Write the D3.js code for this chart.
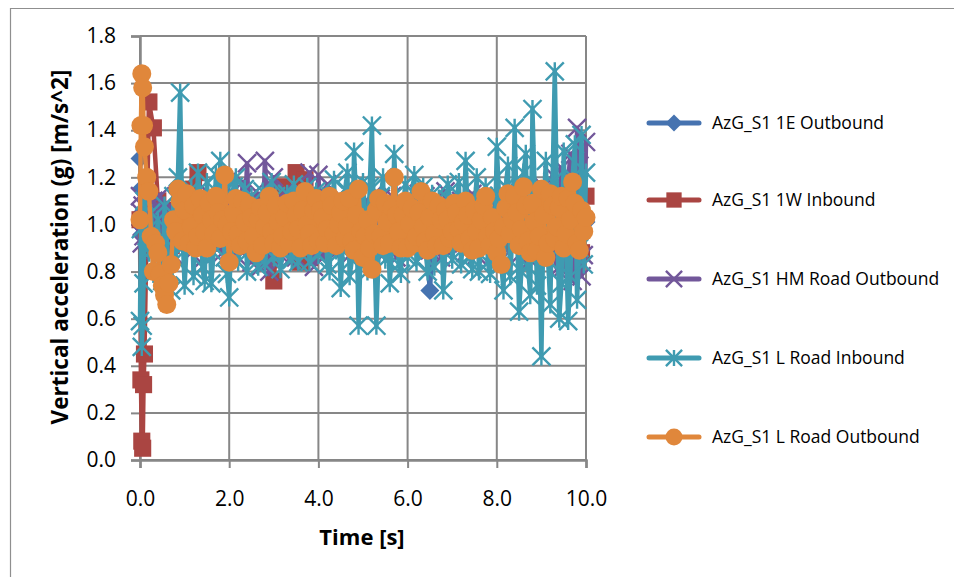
<!DOCTYPE html>
<html>
<head>
<meta charset="utf-8">
<script src="https://cdn.jsdelivr.net/npm/d3@7"></script>
<style>
  html, body { margin: 0; padding: 0; background: #fff; }
  svg { display: block; font-family: "Open Sans", "Liberation Sans", sans-serif; }
</style>
</head>
<body>
<svg id="chart" width="954" height="577"></svg>
<script>
// Sample times: 0.02 s steps during the first 0.1 s, then a coarse (0.1 s)
// or fine (0.05 s) grid up to 10 s
const timeStart = [0, 0.02, 0.04, 0.06, 0.08];
const timeCoarse = timeStart.concat(d3.range(1, 101).map(i => i / 10));
const timeFine = timeStart.concat(d3.range(2, 201).map(i => i / 20));

const seriesNames = [
  "AzG_S1 1E Outbound",
  "AzG_S1 1W Inbound",
  "AzG_S1 HM Road Outbound",
  "AzG_S1 L Road Inbound",
  "AzG_S1 L Road Outbound"
];

// coarse grid
const outbound1E = [
  1.28, 1.15, 1.05, 0.96, 1.02,
  0.98, 1.06, 0.94, 1.03, 0.97, 1.05, 0.92, 1.04, 0.99, 1.07,
  0.95, 1.03, 0.98, 1.06, 0.93, 1.04, 0.97, 1.08, 0.96, 1.02,
  0.94, 1.05, 0.99, 1.07, 0.95, 1.03, 0.97, 1.06, 0.93, 1.04,
  0.98, 1.05, 0.96, 1.02, 0.94, 1.07, 0.99, 1.03, 0.95, 1.06,
  0.97, 1.04, 0.93, 1.08, 0.96, 1.02, 0.98, 1.05, 0.94, 1.03,
  0.99, 1.06, 0.95, 1.03, 0.97, 1.05, 0.93, 1.04, 0.98, 1.02,
  0.96, 1.05, 0.99, 0.94, 0.72, 1.03, 0.97, 1.06, 0.95, 1.02,
  0.98, 1.04, 0.94, 1.07, 0.96, 1.03, 0.99, 1.05, 0.93, 1.02,
  0.97, 1.06, 0.95, 1.03, 0.98, 1.04, 0.94, 1.07, 0.96, 1.02,
  0.99, 1.05, 0.93, 1.04, 0.97, 1.06, 0.95, 1.03, 0.98, 1.01
];

// coarse grid
const inbound1W = [
  1.02, 0.34, 0.08, 0.05, 0.32,
  0.45, 1.52, 1.41, 1.10, 0.95, 1.06, 0.91, 1.04, 0.97, 1.08,
  0.93, 1.15, 1.22, 0.96, 1.09, 0.92, 1.05, 0.98, 1.11, 0.94,
  1.03, 0.96, 1.08, 0.91, 1.05, 0.97, 1.10, 0.93, 0.85, 0.76,
  1.06, 1.16, 0.98, 1.08, 1.22, 0.84, 1.19, 0.86, 1.05, 0.95,
  1.07, 0.93, 1.04, 0.98, 1.09, 0.94, 1.03, 0.97, 1.06, 0.92,
  1.05, 0.96, 1.08, 0.93, 1.02, 0.97, 1.07, 0.94, 1.04, 0.95,
  1.06, 0.92, 1.03, 0.98, 1.08, 0.95, 1.04, 0.91, 1.07, 0.96,
  1.02, 0.94, 1.09, 0.97, 1.05, 0.93, 1.06, 0.98, 1.03, 0.95,
  1.08, 0.92, 1.04, 0.97, 1.07, 0.94, 1.03, 0.96, 1.05, 0.93,
  1.06, 0.95, 1.09, 0.91, 1.04, 0.97, 1.08, 0.93, 0.88, 1.12
];

// fine grid
const hmRoadOutbound = [
  1.12, 1.05, 0.92, 1.08, 0.95,
  1.02, 1.09, 0.90, 0.97, 1.10, 0.89, 0.96, 1.12, 1.05, 0.92, 0.88, 1.03, 1.07, 0.87, 0.93, 1.10, 1.04, 0.95, 0.91,
  1.01, 1.08, 0.88, 0.95, 1.04, 1.12, 0.98, 0.90, 0.86, 1.06, 1.13, 0.97, 0.91, 1.10, 1.05, 0.93, 0.88, 1.02, 1.15, 0.89,
  0.97, 1.07, 1.12, 0.86, 0.93, 1.18, 1.02, 1.26, 0.98, 0.84, 0.90, 1.14, 1.08, 0.82, 0.95, 1.27, 1.10, 0.80, 0.88, 1.20,
  1.04, 0.88, 0.97, 1.09, 1.14, 0.94, 0.85, 1.05, 1.10, 0.86, 0.92, 1.12, 1.03, 0.91, 0.98, 1.22, 1.08, 0.82, 0.90, 1.21,
  1.00, 0.86, 0.94, 1.17, 1.05, 0.93, 0.88, 1.06, 1.12, 0.90, 0.97, 1.10, 1.02, 0.87, 0.92, 1.08, 1.13, 0.95, 0.89, 1.03,
  1.10, 0.92, 0.87, 1.07, 1.13, 0.96, 0.90, 1.11, 1.04, 0.88, 0.95, 1.04, 1.12, 0.93, 0.86, 1.09, 1.01, 0.97, 0.91, 1.02,
  1.09, 0.90, 0.96, 1.06, 1.13, 0.94, 0.87, 1.12, 1.03, 0.89, 0.93, 1.05, 1.11, 0.97, 0.86, 1.08, 1.14, 0.92, 0.88, 1.03,
  1.08, 0.95, 0.91, 1.10, 1.02, 0.88, 0.94, 1.04, 1.13, 0.93, 0.87, 1.07, 1.01, 0.90, 0.96, 1.11, 1.05, 0.96, 0.89, 1.02,
  1.12, 0.91, 0.86, 1.09, 1.15, 0.94, 0.99, 1.06, 1.10, 0.87, 0.93, 1.12, 1.04, 0.95, 0.85, 1.04, 1.14, 0.90, 0.97, 1.08,
  1.16, 0.93, 0.88, 1.13, 1.21, 0.86, 0.81, 1.10, 1.24, 0.82, 0.90, 1.18, 1.30, 0.76, 0.84, 1.41, 1.25, 0.78, 0.87, 1.35
];

// fine grid
const lRoadInbound = [
  0.59, 0.98, 0.48, 0.57, 0.75,
  1.10, 0.95, 0.88, 1.05, 0.79, 0.90, 1.02, 0.84, 0.76, 1.08, 0.93, 0.80, 0.72, 1.12, 0.85, 1.20, 1.56, 0.98, 0.74,
  0.92, 1.05, 1.15, 0.78, 0.96, 1.22, 1.09, 0.82, 0.76, 1.18, 1.02, 0.75, 0.88, 1.21, 0.94, 1.27, 1.13, 0.86, 0.79, 0.69,
  0.98, 1.16, 1.20, 0.84, 0.91, 1.09, 1.15, 0.80, 0.95, 1.12, 1.03, 0.88, 0.82, 1.05, 1.14, 0.83, 0.93, 1.10, 1.18, 0.86,
  1.12, 1.07, 0.81, 0.88, 1.02, 1.13, 0.95, 0.85, 1.17, 1.04, 0.84, 0.90, 0.97, 1.10, 1.16, 0.84, 0.92, 1.08, 1.14, 0.87,
  0.96, 1.12, 1.05, 0.83, 0.80, 1.06, 1.19, 0.89, 1.02, 0.73, 0.92, 1.15, 1.22, 0.78, 0.85, 1.31, 1.08, 0.57, 0.90, 1.18,
  1.04, 0.80, 1.16, 1.42, 0.95, 0.57, 0.88, 1.12, 1.20, 0.85, 1.03, 0.75, 0.90, 1.30, 1.07, 0.83, 0.79, 1.09, 1.17, 0.86,
  0.99, 1.14, 1.21, 0.84, 0.93, 1.08, 1.16, 0.89, 0.80, 1.06, 1.13, 0.82, 0.97, 1.11, 1.04, 0.72, 0.91, 1.17, 1.10, 0.85,
  0.94, 1.10, 1.18, 0.83, 0.96, 1.27, 1.05, 0.86, 0.81, 1.07, 1.20, 0.80, 0.91, 1.12, 1.16, 0.84, 0.79, 1.04, 0.88, 1.33,
  1.12, 0.83, 0.72, 1.16, 1.25, 0.78, 0.96, 1.41, 1.02, 0.63, 0.80, 1.22, 1.30, 0.82, 0.70, 1.49, 1.14, 0.74, 0.95, 0.44,
  1.08, 1.27, 0.85, 0.66, 1.18, 1.65, 1.10, 0.60, 0.75, 1.31, 0.93, 0.59, 0.78, 1.20, 1.34, 0.68, 0.90, 1.38, 0.83, 1.22
];

// fine grid
const lRoadOutbound = [
  1.02, 1.42, 1.64, 1.58, 1.42,
  1.33, 1.20, 1.14, 0.95, 0.80, 0.92, 0.88, 0.79, 0.74, 0.70, 0.66, 0.75, 0.83, 1.02, 0.97, 1.15, 1.10, 0.93, 1.06,
  1.13, 0.92, 0.99, 1.08, 0.90, 0.95, 1.11, 1.04, 0.97, 0.90, 1.09, 1.02, 0.96, 1.12, 1.05, 0.94, 1.02, 1.21, 1.00, 0.84,
  0.97, 1.05, 1.11, 0.96, 0.91, 1.10, 1.01, 0.93, 1.08, 1.03, 0.95, 0.88, 1.02, 1.07, 0.91, 0.99, 1.05, 1.12, 0.97, 0.92,
  1.08, 1.01, 0.90, 0.95, 1.03, 1.09, 0.92, 0.97, 1.10, 1.04, 0.98, 0.90, 1.06, 1.14, 1.00, 0.96, 0.91, 1.06, 1.11, 0.93,
  1.06, 1.03, 0.92, 0.98, 1.12, 1.08, 0.96, 0.91, 1.00, 1.05, 1.10, 0.94, 0.99, 1.11, 0.93, 0.89, 1.04, 1.15, 0.97, 0.86,
  0.95, 1.02, 0.90, 0.81, 0.96, 1.06, 1.11, 0.95, 0.91, 1.09, 1.01, 0.92, 1.07, 1.20, 1.04, 0.97, 0.90, 1.04, 1.10, 0.90,
  1.00, 1.07, 0.92, 0.95, 1.05, 1.14, 0.99, 0.93, 0.89, 1.03, 1.10, 0.96, 0.91, 1.08, 1.02, 0.91, 1.06, 1.02, 0.94, 0.97,
  1.09, 1.05, 0.98, 0.92, 1.01, 1.10, 1.04, 0.94, 0.89, 1.06, 0.97, 0.90, 1.02, 1.08, 1.12, 0.95, 0.91, 1.03, 0.97, 0.88,
  0.94, 0.83, 0.99, 1.07, 1.13, 0.96, 1.02, 1.12, 1.05, 0.91, 0.98, 1.16, 1.08, 0.93, 0.88, 1.09, 1.01, 0.89, 0.95, 1.15,
  1.04, 0.86, 0.92, 1.13, 1.08, 0.94, 0.99, 1.07, 1.12, 0.90, 0.96, 1.11, 1.02, 1.18, 1.09, 0.92, 0.89, 1.06, 0.97, 1.03
];

const xTicks = [0, 2, 4, 6, 8, 10];
const yTicks = [0, 0.2, 0.4, 0.6, 0.8, 1.0, 1.2, 1.4, 1.6, 1.8];

const seriesValues = [outbound1E, inbound1W, hmRoadOutbound, lRoadInbound, lRoadOutbound];
const seriesTimes = [timeCoarse, timeCoarse, timeFine, timeFine, timeFine];
const seriesColors = ["#4673B0", "#AA4542", "#72579A", "#3F9BB1", "#E0873B"];
const seriesMarkers = ["diamond", "square", "cross", "star", "circle"];

const svg = d3.select("#chart");
const gridColor = "#878787";

// chart frame
svg.append("path")
  .attr("d", "M10.5,577 L10.5,8.5 L954,8.5")
  .attr("fill", "none")
  .attr("stroke", "#8f8f8f")
  .attr("stroke-width", 1.2);

const plot = { left: 140, right: 586, top: 36, bottom: 460 };
const x = d3.scaleLinear().domain([0, 10]).range([plot.left, plot.right]);
const y = d3.scaleLinear().domain([0, 1.8]).range([plot.bottom, plot.top]);

// gridlines
const grid = svg.append("g");
grid.selectAll("line.h").data(yTicks).join("line")
  .attr("x1", plot.left).attr("x2", plot.right)
  .attr("y1", d => y(d)).attr("y2", d => y(d))
  .attr("stroke", gridColor).attr("stroke-width", 2);
grid.selectAll("line.v").data(xTicks).join("line")
  .attr("x1", d => x(d)).attr("x2", d => x(d))
  .attr("y1", plot.top).attr("y2", plot.bottom)
  .attr("stroke", gridColor).attr("stroke-width", 2);

// axes
const yAxis = svg.append("g")
  .attr("transform", `translate(${plot.left},0)`)
  .call(d3.axisLeft(y).tickValues(yTicks).tickFormat(d3.format(".1f")).tickSize(9).tickPadding(15));
const xAxis = svg.append("g")
  .attr("transform", `translate(0,${plot.bottom})`)
  .call(d3.axisBottom(x).tickValues(xTicks).tickFormat(d3.format(".1f")).tickSize(8).tickPadding(23));
[yAxis, xAxis].forEach(ax => {
  ax.select(".domain").attr("stroke", gridColor).attr("stroke-width", 2.5);
  ax.selectAll(".tick line").attr("stroke", gridColor).attr("stroke-width", 2);
  ax.selectAll(".tick text")
    .attr("fill", "#000")
    .style("font-size", "21px")
    .style("font-family", "'Open Sans', sans-serif");
});

// axis titles
svg.append("text")
  .attr("x", (plot.left + plot.right) / 2 - 1)
  .attr("y", 545)
  .attr("text-anchor", "middle")
  .style("font-size", "22px")
  .style("font-weight", "bold")
  .text("Time [s]");
svg.append("text")
  .attr("transform", "translate(68,247) rotate(-90)")
  .attr("text-anchor", "middle")
  .style("font-size", "22.5px")
  .style("font-weight", "bold")
  .text("Vertical acceleration  (g) [m/s^2]");

// marker shapes
function drawMarker(g, kind, color, cx, cy, s) {
  const h = s / 2;
  if (kind === "diamond") {
    g.append("path").attr("d", `M${cx},${cy - h}L${cx + h},${cy}L${cx},${cy + h}L${cx - h},${cy}Z`).attr("fill", color);
  } else if (kind === "square") {
    const q = h * 0.9;
    g.append("rect").attr("x", cx - q).attr("y", cy - q).attr("width", 2 * q).attr("height", 2 * q).attr("fill", color);
  } else if (kind === "circle") {
    g.append("circle").attr("cx", cx).attr("cy", cy).attr("r", h).attr("fill", color);
  } else {
    const a = h * 0.95;
    let d = `M${cx - a},${cy - a}L${cx + a},${cy + a}M${cx - a},${cy + a}L${cx + a},${cy - a}`;
    if (kind === "star") d += `M${cx},${cy - a}L${cx},${cy + a}`;
    g.append("path").attr("d", d).attr("stroke", color).attr("stroke-width", 2.4).attr("fill", "none");
  }
}

const line = d3.line().x(d => x(d[0])).y(d => y(d[1]));

seriesValues.forEach((vals, i) => {
  const ts = seriesTimes[i];
  const n = Math.min(ts.length, vals.length);
  const pts = d3.range(n).map(k => [ts[k], vals[k]]);
  const g = svg.append("g");
  g.append("path")
    .attr("d", line(pts))
    .attr("fill", "none")
    .attr("stroke", seriesColors[i])
    .attr("stroke-width", 4.5)
    .attr("stroke-linejoin", "round")
    .attr("stroke-linecap", "round");
  const mg = g.append("g");
  pts.forEach(p => drawMarker(mg, seriesMarkers[i], seriesColors[i], x(p[0]), y(p[1]), 19));
});

// legend
const legendRows = [123, 200, 279, 358, 437];
const legend = svg.append("g");
seriesNames.forEach((name, i) => {
  const cy = legendRows[i];
  legend.append("line")
    .attr("x1", 649).attr("x2", 699).attr("y1", cy).attr("y2", cy)
    .attr("stroke", seriesColors[i]).attr("stroke-width", 5).attr("stroke-linecap", "round");
  drawMarker(legend, seriesMarkers[i], seriesColors[i], 674, cy, 17);
  legend.append("text")
    .attr("x", 712).attr("y", cy)
    .attr("dy", "0.35em")
    .style("font-size", "17.5px")
    .text(name);
});
</script>
</body>
</html>
